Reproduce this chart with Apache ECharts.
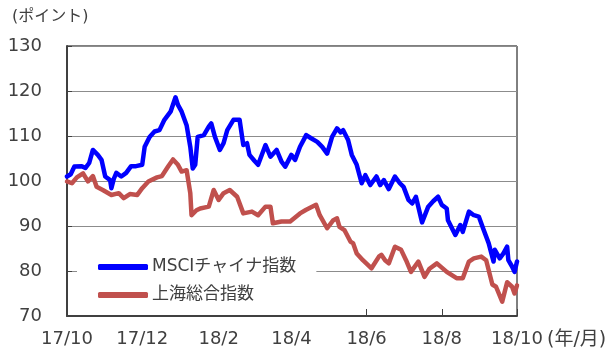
<!DOCTYPE html>
<html>
<head>
<meta charset="utf-8">
<script src="https://cdn.jsdelivr.net/npm/echarts@6/dist/echarts.min.js"></script>
<style>html,body{margin:0;padding:0;background:#fff;}#c{width:615px;height:363px;}</style>
</head>
<body>
<div id="c"></div>
<script>
// Day offsets from 2017-10-01 and index values
const msciDays = [0,3,6,12,15,18,21,25,28,31,35,36,38,40,44,48,52,56,61,63,67,71,75,79,84,88,90,93,97,100,102,104,106,111,115,117,120,124,127,130,135,140,143,146,148,152,155,161,165,170,174,177,182,185,189,194,198,203,207,211,215,219,222,224,228,231,235,239,242,246,251,254,257,261,266,270,273,277,280,283,288,293,297,301,304,308,309,315,319,321,326,330,334,338,342,346,347,351,354,357,358,361,363,365];
const msciValues = [101.0,101.5,103.2,103.3,102.9,104.0,106.9,105.8,104.7,101.0,100.2,98.4,100.5,101.8,101.0,101.8,103.3,103.3,103.6,107.6,109.8,111.0,111.3,113.6,115.4,118.6,116.9,115.4,112.4,107.6,102.8,103.6,109.8,110.2,112.1,112.8,109.8,106.9,108.4,111.3,113.6,113.6,108.0,108.4,105.8,104.5,103.6,108.0,105.4,106.9,104.3,103.2,105.8,104.7,107.6,110.2,109.5,108.7,107.6,106.1,109.8,111.7,110.8,111.3,109.1,105.8,103.6,99.5,101.3,99.1,101.0,99.1,100.2,98.2,101.0,99.5,98.7,95.8,95.0,96.5,90.8,94.3,95.5,96.5,94.7,93.9,91.3,88.0,90.2,88.7,93.2,92.4,92.1,89.1,86.2,82.1,84.7,82.8,83.9,85.4,82.4,81.0,79.8,82.1];
const shDays = [0,4,8,13,17,21,24,29,36,42,46,51,57,61,66,73,77,82,86,90,93,97,100,101,105,108,115,119,123,127,132,138,143,150,155,161,165,167,174,181,189,194,202,205,211,216,219,221,225,230,232,235,240,247,253,255,258,261,266,271,275,279,285,290,294,300,308,316,321,326,330,336,340,345,348,353,357,361,363,365];
const shValues = [99.9,99.5,100.8,101.7,99.9,101.1,98.7,98.0,96.9,97.3,96.2,97.1,96.9,98.4,99.9,100.8,101.1,103.2,104.8,103.6,102.1,102.4,97.3,92.4,93.5,93.9,94.3,98.0,95.8,97.3,98.0,96.5,92.8,93.2,92.4,94.3,94.3,90.6,91.0,91.0,92.8,93.6,94.7,92.4,89.5,91.3,91.7,89.8,89.1,86.5,86.2,83.9,82.4,80.6,83.2,83.6,82.4,81.7,85.4,84.7,82.4,79.8,82.1,78.7,80.5,81.7,79.8,78.4,78.4,82.1,82.8,83.2,82.4,77.0,76.5,73.2,77.5,76.5,75.0,76.8];
const tickDates = ['2017-10-01','2017-12-01','2018-02-01','2018-04-01','2018-06-01','2018-08-01','2018-10-01'];
const tickLabels = ['17/10','17/12','18/2','18/4','18/6','18/8','18/10'];
const seriesNames = ['MSCIチャイナ指数','上海総合指数'];

const categories = [];
{
  const start = Date.UTC(2017, 9, 1);
  for (let i = 0; i <= 365; i++) {
    categories.push(new Date(start + i * 86400000).toISOString().slice(0, 10));
  }
}
const zip = (a, b) => a.map((d, i) => [d, b[i]]);
const FONT = 'DejaVu Sans, Noto Sans CJK JP, sans-serif';
const TXT = '#404040';

const chart = echarts.init(document.getElementById('c'), null, {renderer: 'canvas'});
chart.setOption({
  animation: false,
  backgroundColor: '#fff',
  textStyle: {fontFamily: FONT},
  grid: {left: 67, right: 98, top: 46, bottom: 47, show: true, borderColor: '#000', borderWidth: 1, backgroundColor: 'transparent'},
  xAxis: {
    type: 'category',
    data: categories,
    boundaryGap: false,
    axisLine: {lineStyle: {color: '#404040', width: 2}},
    axisTick: {inside: true, length: 7, lineStyle: {color: '#404040', width: 1}, interval: (i, v) => tickDates.indexOf(v) >= 0},
    axisLabel: {
      interval: (i, v) => tickDates.indexOf(v) >= 0,
      formatter: v => tickLabels[tickDates.indexOf(v)],
      color: TXT, fontSize: 18, fontFamily: FONT, margin: 14, showMaxLabel: true
    },
    splitLine: {show: false}
  },
  yAxis: {
    type: 'value', min: 70, max: 130, interval: 10,
    axisLine: {show: true, lineStyle: {color: '#404040', width: 2}},
    axisTick: {show: true, inside: true, length: 5, lineStyle: {color: '#404040'}},
    axisLabel: {color: TXT, fontSize: 18, fontFamily: FONT, margin: 25},
    splitLine: {lineStyle: {color: '#8c8c8c', width: 1}}
  },
  legend: {
    orient: 'vertical', left: 77, top: 244,
    padding: [12, 20, 9, 21],
    backgroundColor: '#fff',
    itemWidth: 50, itemHeight: 6, itemGap: 6,
    icon: 'roundRect',
    textStyle: {color: TXT, fontSize: 17, fontFamily: FONT, lineHeight: 22, padding: [0, 0, 0, -1]},
    data: seriesNames
  },
  graphic: [
    {type: 'text', left: 12, top: 9, style: {text: '(ポイント)', fontSize: 16, fontFamily: FONT, fill: TXT}},
    {type: 'text', left: 547, top: 331, style: {text: '(年/月)', fontSize: 19, fontFamily: FONT, fill: TXT}}
  ],
  series: [
    {name: seriesNames[0], type: 'line', data: zip(msciDays, msciValues), showSymbol: false, symbol: 'none',
     lineStyle: {color: '#0000ff', width: 4.5, join: 'round', cap: 'round'}, itemStyle: {color: '#0000ff'}, z: 3},
    {name: seriesNames[1], type: 'line', data: zip(shDays, shValues), showSymbol: false, symbol: 'none',
     lineStyle: {color: '#c0504d', width: 4.5, join: 'round', cap: 'round'}, itemStyle: {color: '#c0504d'}, z: 2}
  ]
});
</script>
</body>
</html>
